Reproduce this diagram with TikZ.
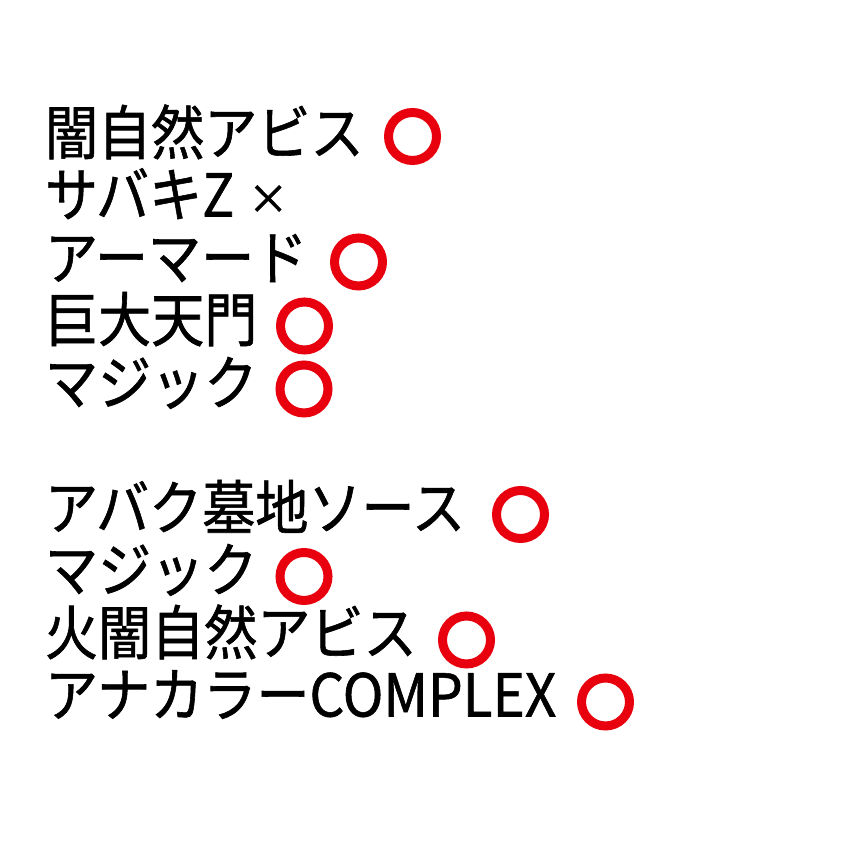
\documentclass[tikz,border=0pt]{standalone}
\usepackage{fontspec}
\setmainfont{Noto Sans CJK JP}[FakeStretch=0.9,FakeBold=1]
\newfontfamily\latinfont{Noto Sans CJK JP}[FakeStretch=0.93,FakeBold=1]
\newfontfamily\crossfont{Noto Sans CJK JP}[FakeBold=2]
\usetikzlibrary{calc}
\definecolor{ringred}{RGB}{232,0,14}
\begin{document}
\begin{tikzpicture}[x=1pt,y=1pt,
  line/.style={anchor=base west,inner sep=0pt,outer sep=0pt,font=\fontsize{59}{62}\selectfont},
  ring/.style={circle,draw=ringred,line width=9pt,minimum size=48pt,inner sep=0pt}]
\useasboundingbox[fill=white] (0,0) rectangle (845,861);
\node[line] (t1) at (45,861-154.5) {闇自然アビス};
\node[line] (t2) at (45,861-216.5) {サバキZ\hspace{14pt}\raisebox{3pt}{\crossfont\fontsize{40}{40}\selectfont ×}};
\node[line] (t3) at (45,861-279.5) {アーマード};
\node[line] (t4) at (45,861-341.5) {巨大天門};
\node[line] (t5) at (45,861-404.5) {マジック};
\node[line] (t6) at (45,861-529.5) {アバク墓地ソース};
\node[line] (t7) at (45,861-591.5) {マジック};
\node[line] (t8) at (45,861-654.5) {火闇自然アビス};
\node[line] (t9) at (45,861-716.5) {アナカラー{\latinfont COMPLEX}};
\node[ring] (c1) at (412.5,861-136.5) {};
\node[ring] (c3) at (358.5,861-262) {};
\node[ring] (c4) at (304.5,861-326) {};
\node[ring] (c5) at (304,861-389) {};
\node[ring] (c6) at (520.5,861-514.5) {};
\node[ring] (c7) at (304,861-576.5) {};
\node[ring] (c8) at (466.5,861-640) {};
\node[ring] (c9) at (605.5,861-702) {};
\end{tikzpicture}
\end{document}
